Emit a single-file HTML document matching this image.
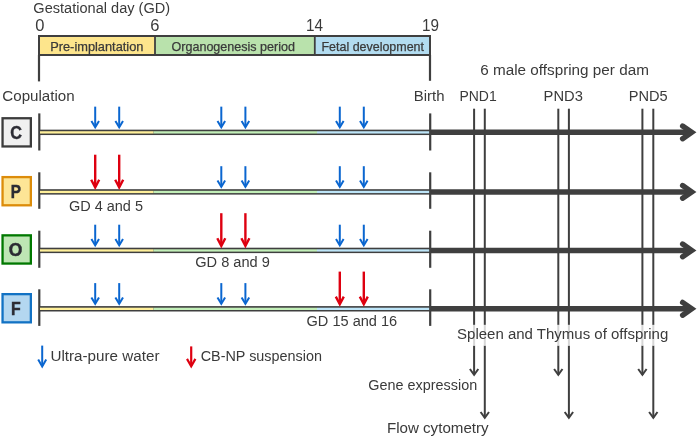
<!DOCTYPE html>
<html><head><meta charset="utf-8"><style>
html,body{margin:0;padding:0;background:#fff;width:699px;height:438px;overflow:hidden}
svg{display:block;font-family:"Liberation Sans",sans-serif;will-change:transform}
</style></head><body>
<svg width="699" height="438" viewBox="0 0 699 438">
<rect width="699" height="438" fill="#fff"/>
<text x="33.36" y="12.7" font-size="15.4" font-weight="normal" fill="#3a3a3a" textLength="136.72" lengthAdjust="spacingAndGlyphs">Gestational day (GD)</text>
<text x="35.2" y="31.4" font-size="16.5" font-weight="normal" fill="#3a3a3a">0</text>
<text x="150.3" y="31.4" font-size="16.5" font-weight="normal" fill="#3a3a3a">6</text>
<text x="305.9" y="31.4" font-size="16.5" font-weight="normal" fill="#3a3a3a" textLength="17.0" lengthAdjust="spacingAndGlyphs">14</text>
<text x="422.0" y="31.4" font-size="16.5" font-weight="normal" fill="#3a3a3a" textLength="17.0" lengthAdjust="spacingAndGlyphs">19</text>
<rect x="39" y="36" width="116" height="19" fill="#fde58c"/>
<rect x="155" y="36" width="159.8" height="19" fill="#b9e2ac"/>
<rect x="314.8" y="36" width="115.2" height="19" fill="#b2dcf0"/>
<rect x="39" y="36" width="391" height="19" fill="none" stroke="#3f3f3f" stroke-width="2"/>
<line x1="155" y1="36" x2="155" y2="55" stroke="#3f3f3f" stroke-width="1.8" stroke-linecap="butt"/>
<line x1="314.8" y1="36" x2="314.8" y2="55" stroke="#3f3f3f" stroke-width="1.8" stroke-linecap="butt"/>
<text x="50.2" y="50.6" font-size="12.2" font-weight="normal" fill="#3a3a3a" stroke="#3a3a3a" stroke-width="0.25" textLength="93.28" lengthAdjust="spacingAndGlyphs">Pre-implantation</text>
<text x="171.5" y="50.6" font-size="12.2" font-weight="normal" fill="#3a3a3a" stroke="#3a3a3a" stroke-width="0.25" textLength="123.5" lengthAdjust="spacingAndGlyphs">Organogenesis period</text>
<text x="321.5" y="50.6" font-size="12.2" font-weight="normal" fill="#3a3a3a" stroke="#3a3a3a" stroke-width="0.25" textLength="102.5" lengthAdjust="spacingAndGlyphs">Fetal development</text>
<line x1="39" y1="55" x2="39" y2="81.4" stroke="#3f3f3f" stroke-width="2.2" stroke-linecap="butt"/>
<line x1="430" y1="55" x2="430" y2="80.8" stroke="#3f3f3f" stroke-width="2.2" stroke-linecap="butt"/>
<text x="2.32" y="100.9" font-size="15.4" font-weight="normal" fill="#3a3a3a" textLength="72.28" lengthAdjust="spacingAndGlyphs">Copulation</text>
<text x="413.76" y="101" font-size="15.4" font-weight="normal" fill="#3a3a3a" textLength="30.72" lengthAdjust="spacingAndGlyphs">Birth</text>
<text x="459.44" y="101" font-size="15.4" font-weight="normal" fill="#3a3a3a" textLength="37.26" lengthAdjust="spacingAndGlyphs">PND1</text>
<text x="543.6" y="101" font-size="15.4" font-weight="normal" fill="#3a3a3a" textLength="39.26" lengthAdjust="spacingAndGlyphs">PND3</text>
<text x="628.72" y="101" font-size="15.4" font-weight="normal" fill="#3a3a3a" textLength="38.92" lengthAdjust="spacingAndGlyphs">PND5</text>
<text x="480.2" y="74.7" font-size="15.4" font-weight="normal" fill="#3a3a3a" textLength="168.72" lengthAdjust="spacingAndGlyphs">6 male offspring per dam</text>
<line x1="474.1" y1="108.7" x2="474.1" y2="324.9" stroke="#3f3f3f" stroke-width="2" stroke-linecap="butt"/>
<line x1="474.1" y1="345.6" x2="474.1" y2="375" stroke="#3f3f3f" stroke-width="2" stroke-linecap="butt"/>
<polyline points="469.90000000000003,369.0 474.1,374.8 478.3,369.0" fill="none" stroke="#3f3f3f" stroke-width="2"/>
<line x1="558.3" y1="108.7" x2="558.3" y2="324.9" stroke="#3f3f3f" stroke-width="2" stroke-linecap="butt"/>
<line x1="558.3" y1="345.6" x2="558.3" y2="375" stroke="#3f3f3f" stroke-width="2" stroke-linecap="butt"/>
<polyline points="554.0999999999999,369.0 558.3,374.8 562.5,369.0" fill="none" stroke="#3f3f3f" stroke-width="2"/>
<line x1="642.4" y1="108.7" x2="642.4" y2="324.9" stroke="#3f3f3f" stroke-width="2" stroke-linecap="butt"/>
<line x1="642.4" y1="345.6" x2="642.4" y2="375" stroke="#3f3f3f" stroke-width="2" stroke-linecap="butt"/>
<polyline points="638.1999999999999,369.0 642.4,374.8 646.6,369.0" fill="none" stroke="#3f3f3f" stroke-width="2"/>
<line x1="484.8" y1="108.7" x2="484.8" y2="324.9" stroke="#3f3f3f" stroke-width="2" stroke-linecap="butt"/>
<line x1="484.8" y1="345.6" x2="484.8" y2="418" stroke="#3f3f3f" stroke-width="2" stroke-linecap="butt"/>
<polyline points="480.6,412.0 484.8,417.8 489.0,412.0" fill="none" stroke="#3f3f3f" stroke-width="2"/>
<line x1="568.9" y1="108.7" x2="568.9" y2="324.9" stroke="#3f3f3f" stroke-width="2" stroke-linecap="butt"/>
<line x1="568.9" y1="345.6" x2="568.9" y2="418" stroke="#3f3f3f" stroke-width="2" stroke-linecap="butt"/>
<polyline points="564.6999999999999,412.0 568.9,417.8 573.1,412.0" fill="none" stroke="#3f3f3f" stroke-width="2"/>
<line x1="653.3" y1="108.7" x2="653.3" y2="324.9" stroke="#3f3f3f" stroke-width="2" stroke-linecap="butt"/>
<line x1="653.3" y1="345.6" x2="653.3" y2="418" stroke="#3f3f3f" stroke-width="2" stroke-linecap="butt"/>
<polyline points="649.0999999999999,412.0 653.3,417.8 657.5,412.0" fill="none" stroke="#3f3f3f" stroke-width="2"/>
<line x1="474.1" y1="324.9" x2="474.1" y2="345.5" stroke="#d6d6d6" stroke-width="2" stroke-linecap="butt"/>
<line x1="558.3" y1="324.9" x2="558.3" y2="345.5" stroke="#d6d6d6" stroke-width="2" stroke-linecap="butt"/>
<line x1="642.4" y1="324.9" x2="642.4" y2="345.5" stroke="#d6d6d6" stroke-width="2" stroke-linecap="butt"/>
<line x1="484.8" y1="324.9" x2="484.8" y2="345.5" stroke="#d6d6d6" stroke-width="2" stroke-linecap="butt"/>
<line x1="568.9" y1="324.9" x2="568.9" y2="345.5" stroke="#d6d6d6" stroke-width="2" stroke-linecap="butt"/>
<line x1="653.3" y1="324.9" x2="653.3" y2="345.5" stroke="#d6d6d6" stroke-width="2" stroke-linecap="butt"/>
<rect x="2.55" y="118.25" width="28.3" height="28.2" fill="#f0f0f0" stroke="#3c3c3c" stroke-width="2.3"/>
<text x="16.2" y="138.85" font-size="18" font-weight="bold" fill="#2b2b33" stroke="#2b2b33" stroke-width="0.45" textLength="11.7" lengthAdjust="spacingAndGlyphs" text-anchor="middle">C</text>
<line x1="39.3" y1="113.4" x2="39.3" y2="150.5" stroke="#3f3f3f" stroke-width="2.2" stroke-linecap="butt"/>
<rect x="39" y="129.65" width="391" height="5.4" fill="#3f3f3f"/>
<rect x="40" y="131.25" width="113.6" height="2.3" fill="#fff09a"/>
<rect x="153.6" y="131.25" width="163.4" height="2.3" fill="#c2efb8"/>
<rect x="317" y="131.25" width="113" height="2.3" fill="#bde5f8"/>
<line x1="430" y1="132.35" x2="688" y2="132.35" stroke="#3f3f3f" stroke-width="5.5" stroke-linecap="butt"/>
<polyline points="682.6,125.94999999999999 691.8,132.35 682.6,138.75" fill="none" stroke="#3f3f3f" stroke-width="5.3" stroke-linecap="round" stroke-linejoin="miter"/>
<line x1="430.2" y1="113.4" x2="430.2" y2="150.5" stroke="#3f3f3f" stroke-width="2.2" stroke-linecap="butt"/>
<line x1="95.2" y1="106.64999999999999" x2="95.2" y2="126.85" stroke="#0a66d0" stroke-width="2" stroke-linecap="butt"/>
<polyline points="91.4,120.94999999999999 95.2,127.35 99.0,120.94999999999999" fill="none" stroke="#0a66d0" stroke-width="2" stroke-linejoin="miter" stroke-miterlimit="10"/>
<line x1="119.2" y1="106.64999999999999" x2="119.2" y2="126.85" stroke="#0a66d0" stroke-width="2" stroke-linecap="butt"/>
<polyline points="115.4,120.94999999999999 119.2,127.35 123.0,120.94999999999999" fill="none" stroke="#0a66d0" stroke-width="2" stroke-linejoin="miter" stroke-miterlimit="10"/>
<line x1="221.3" y1="106.64999999999999" x2="221.3" y2="126.85" stroke="#0a66d0" stroke-width="2" stroke-linecap="butt"/>
<polyline points="217.5,120.94999999999999 221.3,127.35 225.10000000000002,120.94999999999999" fill="none" stroke="#0a66d0" stroke-width="2" stroke-linejoin="miter" stroke-miterlimit="10"/>
<line x1="245.4" y1="106.64999999999999" x2="245.4" y2="126.85" stroke="#0a66d0" stroke-width="2" stroke-linecap="butt"/>
<polyline points="241.6,120.94999999999999 245.4,127.35 249.20000000000002,120.94999999999999" fill="none" stroke="#0a66d0" stroke-width="2" stroke-linejoin="miter" stroke-miterlimit="10"/>
<line x1="339.8" y1="106.64999999999999" x2="339.8" y2="126.85" stroke="#0a66d0" stroke-width="2" stroke-linecap="butt"/>
<polyline points="336.0,120.94999999999999 339.8,127.35 343.6,120.94999999999999" fill="none" stroke="#0a66d0" stroke-width="2" stroke-linejoin="miter" stroke-miterlimit="10"/>
<line x1="363.8" y1="106.64999999999999" x2="363.8" y2="126.85" stroke="#0a66d0" stroke-width="2" stroke-linecap="butt"/>
<polyline points="360.0,120.94999999999999 363.8,127.35 367.6,120.94999999999999" fill="none" stroke="#0a66d0" stroke-width="2" stroke-linejoin="miter" stroke-miterlimit="10"/>
<rect x="2.55" y="177.1" width="28.3" height="28.2" fill="#fde596" stroke="#dc8c0a" stroke-width="2.3"/>
<text x="15.8" y="197.7" font-size="18" font-weight="bold" fill="#2b2b33" stroke="#2b2b33" stroke-width="0.45" textLength="10.2" lengthAdjust="spacingAndGlyphs" text-anchor="middle">P</text>
<line x1="39.3" y1="172.3" x2="39.3" y2="208.8" stroke="#3f3f3f" stroke-width="2.2" stroke-linecap="butt"/>
<rect x="39" y="189.20000000000002" width="391" height="5.4" fill="#3f3f3f"/>
<rect x="40" y="190.8" width="113.6" height="2.3" fill="#fff09a"/>
<rect x="153.6" y="190.8" width="163.4" height="2.3" fill="#c2efb8"/>
<rect x="317" y="190.8" width="113" height="2.3" fill="#bde5f8"/>
<line x1="430" y1="191.9" x2="688" y2="191.9" stroke="#3f3f3f" stroke-width="5.5" stroke-linecap="butt"/>
<polyline points="682.6,185.5 691.8,191.9 682.6,198.3" fill="none" stroke="#3f3f3f" stroke-width="5.3" stroke-linecap="round" stroke-linejoin="miter"/>
<line x1="430.2" y1="172.3" x2="430.2" y2="208.8" stroke="#3f3f3f" stroke-width="2.2" stroke-linecap="butt"/>
<line x1="95.2" y1="154.7" x2="95.2" y2="186.8" stroke="#de0010" stroke-width="2.4" stroke-linecap="butt"/>
<polyline points="91.2,179.70000000000002 95.2,187.3 99.2,179.70000000000002" fill="none" stroke="#de0010" stroke-width="2.4" stroke-linejoin="miter" stroke-miterlimit="10"/>
<line x1="119.2" y1="154.7" x2="119.2" y2="186.8" stroke="#de0010" stroke-width="2.4" stroke-linecap="butt"/>
<polyline points="115.2,179.70000000000002 119.2,187.3 123.2,179.70000000000002" fill="none" stroke="#de0010" stroke-width="2.4" stroke-linejoin="miter" stroke-miterlimit="10"/>
<line x1="221.3" y1="166.20000000000002" x2="221.3" y2="186.4" stroke="#0a66d0" stroke-width="2" stroke-linecap="butt"/>
<polyline points="217.5,180.5 221.3,186.9 225.10000000000002,180.5" fill="none" stroke="#0a66d0" stroke-width="2" stroke-linejoin="miter" stroke-miterlimit="10"/>
<line x1="245.4" y1="166.20000000000002" x2="245.4" y2="186.4" stroke="#0a66d0" stroke-width="2" stroke-linecap="butt"/>
<polyline points="241.6,180.5 245.4,186.9 249.20000000000002,180.5" fill="none" stroke="#0a66d0" stroke-width="2" stroke-linejoin="miter" stroke-miterlimit="10"/>
<line x1="339.8" y1="166.20000000000002" x2="339.8" y2="186.4" stroke="#0a66d0" stroke-width="2" stroke-linecap="butt"/>
<polyline points="336.0,180.5 339.8,186.9 343.6,180.5" fill="none" stroke="#0a66d0" stroke-width="2" stroke-linejoin="miter" stroke-miterlimit="10"/>
<line x1="363.8" y1="166.20000000000002" x2="363.8" y2="186.4" stroke="#0a66d0" stroke-width="2" stroke-linecap="butt"/>
<polyline points="360.0,180.5 363.8,186.9 367.6,180.5" fill="none" stroke="#0a66d0" stroke-width="2" stroke-linejoin="miter" stroke-miterlimit="10"/>
<rect x="2.55" y="235.35" width="28.3" height="28.2" fill="#bee6b4" stroke="#007800" stroke-width="2.3"/>
<text x="15.6" y="255.95" font-size="18" font-weight="bold" fill="#2b2b33" stroke="#2b2b33" stroke-width="0.45" textLength="13.6" lengthAdjust="spacingAndGlyphs" text-anchor="middle">O</text>
<line x1="39.3" y1="230.7" x2="39.3" y2="267.8" stroke="#3f3f3f" stroke-width="2.2" stroke-linecap="butt"/>
<rect x="39" y="247.70000000000002" width="391" height="5.4" fill="#3f3f3f"/>
<rect x="40" y="249.3" width="113.6" height="2.3" fill="#fff09a"/>
<rect x="153.6" y="249.3" width="163.4" height="2.3" fill="#c2efb8"/>
<rect x="317" y="249.3" width="113" height="2.3" fill="#bde5f8"/>
<line x1="430" y1="250.4" x2="688" y2="250.4" stroke="#3f3f3f" stroke-width="5.5" stroke-linecap="butt"/>
<polyline points="682.6,244.0 691.8,250.4 682.6,256.8" fill="none" stroke="#3f3f3f" stroke-width="5.3" stroke-linecap="round" stroke-linejoin="miter"/>
<line x1="430.2" y1="230.7" x2="430.2" y2="267.8" stroke="#3f3f3f" stroke-width="2.2" stroke-linecap="butt"/>
<line x1="95.2" y1="224.70000000000002" x2="95.2" y2="244.9" stroke="#0a66d0" stroke-width="2" stroke-linecap="butt"/>
<polyline points="91.4,239.0 95.2,245.4 99.0,239.0" fill="none" stroke="#0a66d0" stroke-width="2" stroke-linejoin="miter" stroke-miterlimit="10"/>
<line x1="119.2" y1="224.70000000000002" x2="119.2" y2="244.9" stroke="#0a66d0" stroke-width="2" stroke-linecap="butt"/>
<polyline points="115.4,239.0 119.2,245.4 123.0,239.0" fill="none" stroke="#0a66d0" stroke-width="2" stroke-linejoin="miter" stroke-miterlimit="10"/>
<line x1="221.3" y1="213.2" x2="221.3" y2="245.3" stroke="#de0010" stroke-width="2.4" stroke-linecap="butt"/>
<polyline points="217.3,238.20000000000002 221.3,245.8 225.3,238.20000000000002" fill="none" stroke="#de0010" stroke-width="2.4" stroke-linejoin="miter" stroke-miterlimit="10"/>
<line x1="245.4" y1="213.2" x2="245.4" y2="245.3" stroke="#de0010" stroke-width="2.4" stroke-linecap="butt"/>
<polyline points="241.4,238.20000000000002 245.4,245.8 249.4,238.20000000000002" fill="none" stroke="#de0010" stroke-width="2.4" stroke-linejoin="miter" stroke-miterlimit="10"/>
<line x1="339.8" y1="224.70000000000002" x2="339.8" y2="244.9" stroke="#0a66d0" stroke-width="2" stroke-linecap="butt"/>
<polyline points="336.0,239.0 339.8,245.4 343.6,239.0" fill="none" stroke="#0a66d0" stroke-width="2" stroke-linejoin="miter" stroke-miterlimit="10"/>
<line x1="363.8" y1="224.70000000000002" x2="363.8" y2="244.9" stroke="#0a66d0" stroke-width="2" stroke-linecap="butt"/>
<polyline points="360.0,239.0 363.8,245.4 367.6,239.0" fill="none" stroke="#0a66d0" stroke-width="2" stroke-linejoin="miter" stroke-miterlimit="10"/>
<rect x="2.55" y="294.15" width="28.3" height="28.2" fill="#b4d7f0" stroke="#1272c4" stroke-width="2.3"/>
<text x="15.9" y="314.75" font-size="18" font-weight="bold" fill="#2b2b33" stroke="#2b2b33" stroke-width="0.45" textLength="9.7" lengthAdjust="spacingAndGlyphs" text-anchor="middle">F</text>
<line x1="39.3" y1="289.3" x2="39.3" y2="325.9" stroke="#3f3f3f" stroke-width="2.2" stroke-linecap="butt"/>
<rect x="39" y="306.1" width="391" height="5.4" fill="#3f3f3f"/>
<rect x="40" y="307.7" width="113.6" height="2.3" fill="#fff09a"/>
<rect x="153.6" y="307.7" width="163.4" height="2.3" fill="#c2efb8"/>
<rect x="317" y="307.7" width="113" height="2.3" fill="#bde5f8"/>
<line x1="430" y1="308.8" x2="688" y2="308.8" stroke="#3f3f3f" stroke-width="5.5" stroke-linecap="butt"/>
<polyline points="682.6,302.40000000000003 691.8,308.8 682.6,315.2" fill="none" stroke="#3f3f3f" stroke-width="5.3" stroke-linecap="round" stroke-linejoin="miter"/>
<line x1="430.2" y1="289.3" x2="430.2" y2="325.9" stroke="#3f3f3f" stroke-width="2.2" stroke-linecap="butt"/>
<line x1="95.2" y1="283.1" x2="95.2" y2="303.3" stroke="#0a66d0" stroke-width="2" stroke-linecap="butt"/>
<polyline points="91.4,297.40000000000003 95.2,303.8 99.0,297.40000000000003" fill="none" stroke="#0a66d0" stroke-width="2" stroke-linejoin="miter" stroke-miterlimit="10"/>
<line x1="119.2" y1="283.1" x2="119.2" y2="303.3" stroke="#0a66d0" stroke-width="2" stroke-linecap="butt"/>
<polyline points="115.4,297.40000000000003 119.2,303.8 123.0,297.40000000000003" fill="none" stroke="#0a66d0" stroke-width="2" stroke-linejoin="miter" stroke-miterlimit="10"/>
<line x1="221.3" y1="283.1" x2="221.3" y2="303.3" stroke="#0a66d0" stroke-width="2" stroke-linecap="butt"/>
<polyline points="217.5,297.40000000000003 221.3,303.8 225.10000000000002,297.40000000000003" fill="none" stroke="#0a66d0" stroke-width="2" stroke-linejoin="miter" stroke-miterlimit="10"/>
<line x1="245.4" y1="283.1" x2="245.4" y2="303.3" stroke="#0a66d0" stroke-width="2" stroke-linecap="butt"/>
<polyline points="241.6,297.40000000000003 245.4,303.8 249.20000000000002,297.40000000000003" fill="none" stroke="#0a66d0" stroke-width="2" stroke-linejoin="miter" stroke-miterlimit="10"/>
<line x1="339.8" y1="271.6" x2="339.8" y2="303.7" stroke="#de0010" stroke-width="2.4" stroke-linecap="butt"/>
<polyline points="335.8,296.59999999999997 339.8,304.2 343.8,296.59999999999997" fill="none" stroke="#de0010" stroke-width="2.4" stroke-linejoin="miter" stroke-miterlimit="10"/>
<line x1="363.8" y1="271.6" x2="363.8" y2="303.7" stroke="#de0010" stroke-width="2.4" stroke-linecap="butt"/>
<polyline points="359.8,296.59999999999997 363.8,304.2 367.8,296.59999999999997" fill="none" stroke="#de0010" stroke-width="2.4" stroke-linejoin="miter" stroke-miterlimit="10"/>
<text x="68.88" y="211" font-size="15.4" font-weight="normal" fill="#3a3a3a" textLength="74.12" lengthAdjust="spacingAndGlyphs">GD 4 and 5</text>
<text x="195.2" y="267.1" font-size="15.4" font-weight="normal" fill="#3a3a3a" textLength="74.66" lengthAdjust="spacingAndGlyphs">GD 8 and 9</text>
<text x="306.52" y="325.8" font-size="15.4" font-weight="normal" fill="#3a3a3a" textLength="90.66" lengthAdjust="spacingAndGlyphs">GD 15 and 16</text>
<line x1="42.2" y1="345.6" x2="42.2" y2="365.9" stroke="#0a66d0" stroke-width="2" stroke-linecap="butt"/>
<polyline points="38.2,359.4 42.2,366.4 46.2,359.4" fill="none" stroke="#0a66d0" stroke-width="2" stroke-linejoin="miter" stroke-miterlimit="10"/>
<text x="50.46" y="361" font-size="15.4" font-weight="normal" fill="#3a3a3a" textLength="109.02" lengthAdjust="spacingAndGlyphs">Ultra-pure water</text>
<line x1="191.2" y1="346.4" x2="191.2" y2="365.8" stroke="#de0010" stroke-width="2.2" stroke-linecap="butt"/>
<polyline points="187.0,358.90000000000003 191.2,366.3 195.39999999999998,358.90000000000003" fill="none" stroke="#de0010" stroke-width="2.2" stroke-linejoin="miter" stroke-miterlimit="10"/>
<text x="200.68" y="361" font-size="15.4" font-weight="normal" fill="#3a3a3a" textLength="121.28" lengthAdjust="spacingAndGlyphs">CB-NP suspension</text>
<text x="457.08" y="339" font-size="15.4" font-weight="normal" fill="#3a3a3a" textLength="211.2" lengthAdjust="spacingAndGlyphs">Spleen and Thymus of offspring</text>
<text x="368.34" y="390.3" font-size="15.4" font-weight="normal" fill="#3a3a3a" textLength="108.9" lengthAdjust="spacingAndGlyphs">Gene expression</text>
<text x="386.9" y="432.8" font-size="15.4" font-weight="normal" fill="#3a3a3a" textLength="101.78" lengthAdjust="spacingAndGlyphs">Flow cytometry</text>
</svg>
</body></html>
